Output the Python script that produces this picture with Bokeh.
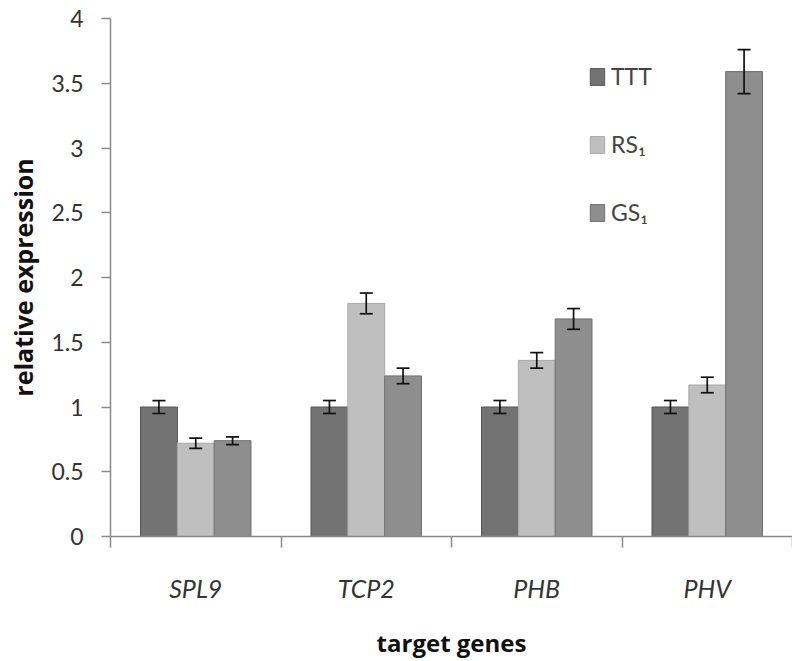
import numpy as np
from bokeh.plotting import figure
from bokeh.models import (ColumnDataSource, Whisker, TeeHead, FixedTicker, Legend, LegendItem, Range1d)
from bokeh.embed import file_html
from bokeh.resources import INLINE

genes = ["SPL9", "TCP2", "PHB", "PHV"]
series = ["TTT", "RS\u2081", "GS\u2081"]
ttt = [1.0, 1.0, 1.0, 1.0]
ttt_err = [0.05, 0.05, 0.05, 0.05]
rs1 = [0.72, 1.80, 1.36, 1.17]
rs1_err = [0.04, 0.08, 0.06, 0.06]
gs1 = [0.74, 1.24, 1.68, 3.59]
gs1_err = [0.03, 0.06, 0.08, 0.17]
y_ticks = [0, 0.5, 1, 1.5, 2, 2.5, 3, 3.5, 4]

colors = ["#737373", "#bfbfbf", "#8e8e8e"]
edges = ["#555555", "#a8a8a8", "#6f6f6f"]
values = [ttt, rs1, gs1]
errors = [ttt_err, rs1_err, gs1_err]

p = figure(width=792, height=661, output_backend="svg", toolbar_location=None,
           x_range=Range1d(0, len(genes)), y_range=Range1d(0, 4))
p.min_border_left = 110
p.min_border_right = 0
p.min_border_top = 18
p.min_border_bottom = 125
p.outline_line_color = None
p.xgrid.visible = False
p.ygrid.visible = False
p.background_fill_color = "white"

bw = 0.216
offsets = [-bw, 0, bw]
centers = np.arange(len(genes)) + 0.5
renderers = []
for i in range(3):
    x = centers + offsets[i]
    v = np.array(values[i])
    e = np.array(errors[i])
    src = ColumnDataSource(dict(x=x, top=v, up=v + e, lo=v - e))
    r = p.vbar(x="x", top="top", width=bw, source=src, fill_color=colors[i],
               line_color=edges[i], line_width=1)
    renderers.append(r)
    w = Whisker(base="x", upper="up", lower="lo", source=src, line_color="#111111", line_width=1.7,
                upper_head=TeeHead(size=13, line_color="#111111", line_width=1.7),
                lower_head=TeeHead(size=13, line_color="#111111", line_width=1.7),
                level="annotation")
    p.add_layout(w)

font = "Lato"
# y axis
ya = p.yaxis[0]
ya.ticker = FixedTicker(ticks=y_ticks)
ya.major_label_overrides = {t: ("%g" % t) for t in y_ticks}
ya.axis_line_color = "#8a8a8a"
ya.axis_line_width = 1.5
ya.major_tick_line_color = "#8a8a8a"
ya.major_tick_line_width = 1.5
ya.major_tick_out = 9
ya.major_tick_in = 0
ya.minor_tick_line_color = None
ya.major_label_text_font = font
ya.major_label_text_font_size = "23px"
ya.major_label_text_color = "#333333"
ya.major_label_standoff = 18
ya.axis_label = "relative expression"
ya.axis_label_text_font = "Open Sans"
ya.axis_label_text_font_style = "bold"
ya.axis_label_text_font_size = "25px"
ya.axis_label_text_color = "#111111"
ya.axis_label_standoff = 8

# x axis
xa = p.xaxis[0]
xa.ticker = FixedTicker(ticks=list(centers), minor_ticks=list(range(len(genes) + 1)))
xa.major_label_overrides = {float(c): g for c, g in zip(centers, genes)}
xa.axis_line_color = "#8a8a8a"
xa.axis_line_width = 1.5
xa.major_tick_line_color = None
xa.major_tick_out = 0
xa.minor_tick_line_color = "#8a8a8a"
xa.minor_tick_line_width = 1.5
xa.minor_tick_out = 11
xa.minor_tick_in = 0
xa.major_label_text_font = font
xa.major_label_text_font_style = "italic"
xa.major_label_text_font_size = "25px"
xa.major_label_text_color = "#333333"
xa.major_label_standoff = 25
xa.axis_label = "target genes"
xa.axis_label_text_font = "Open Sans"
xa.axis_label_text_font_style = "bold"
xa.axis_label_text_font_size = "24px"
xa.axis_label_text_color = "#111111"
xa.axis_label_standoff = 20

items = [LegendItem(label=s, renderers=[r]) for s, r in zip(series, renderers)]
legend = Legend(items=items, location=(478, 310), orientation="vertical",
                spacing=40, glyph_width=18, glyph_height=21, label_height=21,
                label_standoff=5, padding=0, margin=0, border_line_color=None,
                background_fill_alpha=0, label_text_font=font,
                label_text_font_size="23px", label_text_color="#444444")
p.add_layout(legend)

open("out.html", "w").write(file_html(p, INLINE))
